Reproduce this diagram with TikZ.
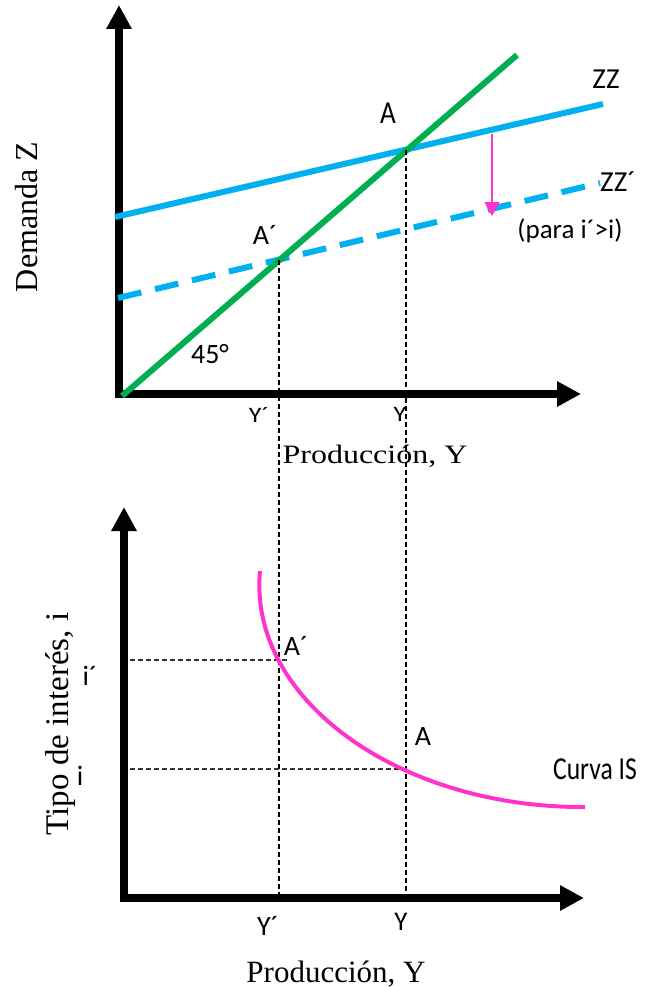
\documentclass[tikz,border=0pt]{standalone}
\usepackage{fontspec}
\setmainfont{Liberation Serif}
\newfontfamily\labfont{Carlito}
\usetikzlibrary{arrows.meta}
\definecolor{zzblue}{HTML}{00B0F0}
\definecolor{lgreen}{HTML}{00B050}
\definecolor{ismag}{HTML}{FF33CC}
\newcommand{\fs}[1]{\fontsize{#1}{#1}\selectfont}
\begin{document}
\begin{tikzpicture}[x=1pt,y=-1pt,
  axis/.style={line width=8pt,-{Triangle[width=24pt,length=24pt]}},
  zzline/.style={zzblue,line width=6pt},
  zzdash/.style={zzblue,line width=6pt,dash pattern=on 24pt off 14pt},
  fortyfive/.style={lgreen,line width=6pt},
  guide/.style={black,line width=1.3pt,dash pattern=on 5pt off 3pt},
  hguide/.style={black!80,line width=1.2pt,dash pattern=on 5pt off 3pt},
  shiftarrow/.style={ismag,line width=2pt,-{Triangle[width=15pt,length=14pt]}},
  iscurve/.style={ismag,line width=4pt},
  lbl/.style={inner sep=0pt,anchor=base,font=\labfont\fs{28}},
  ttl/.style={inner sep=0pt,anchor=base,font=\fs{32}}]
\useasboundingbox (0,0) rectangle (649,987);

% ---------- top panel ----------
\coordinate (t0) at (119,398);
\coordinate (ttop) at (119,5);
\coordinate (h0) at (115,394);
\coordinate (hend) at (581,394);
\draw[axis] (t0) -- (ttop);
\draw[axis] (h0) -- (hend);

\coordinate (g0) at (122,396);
\coordinate (g1) at (517,55);
\coordinate (z0) at (115,217);
\coordinate (z1) at (603,104);
\coordinate (zp0) at (118,298);
\coordinate (zp1) at (600,183);
\coordinate (A) at (406,150);
\coordinate (Ap) at (279,260);

\draw[zzdash] (zp0) -- (zp1);
\draw[zzline] (z0) -- (z1);
\draw[fortyfive] (g0) -- (g1);

\coordinate (s0) at (492,134);
\coordinate (s1) at (492,216);
\draw[shiftarrow] (s0) -- (s1);

% ---------- bottom panel ----------
\coordinate (b0) at (124,902);
\coordinate (btop) at (124,507);
\coordinate (bh0) at (120,898);
\coordinate (bhend) at (584,898);
\draw[axis] (b0) -- (btop);
\draw[axis] (bh0) -- (bhend);

\coordinate (Ybot) at (406,898);
\coordinate (Ypbot) at (279,898);
\draw[guide] (Ap) -- (Ypbot);
\draw[guide] (A) -- (Ybot);

\coordinate (ip0) at (130,660);
\coordinate (ip1) at (290,660);
\coordinate (i0) at (130,769);
\coordinate (i1) at (410,769);
\draw[hguide] (ip0) -- (ip1);
\draw[hguide] (i0) -- (i1);

\coordinate (is0) at (260,571);
\coordinate (is1) at (585,807);
\draw[iscurve] (is0) .. controls (248,700) and (400,808) .. (is1);

% ---------- labels ----------
\node[ttl,rotate=90] (demZ) at (37,217) {Demanda Z};
\node[ttl] (prodtop) at (375,463) {\scalebox{1}[0.83]{Producción, Y}};
\node[ttl,font=\fs{33}] (tipo) at (68,724) [rotate=90] {Tipo de interés, i};
\node[ttl,font=\fs{31}] (prodbot) at (336,982) {Producción, Y};

\node[lbl] (lA) at (388,124) {\fs{32}\scalebox{0.85}[1]{A}};
\node[lbl,font=\labfont\fs{29}] (lZZ) at (606,89) {ZZ};
\node[lbl,font=\labfont\fs{29}] (lZZp) at (618,192) {ZZ´};
\node[lbl,font=\labfont\fs{27}] (lpara) at (570,238) {(para i´>i)};
\node[lbl,font=\labfont\fs{28}] (lAp) at (265,244) {A´};
\node[lbl] (l45) at (210,363) {45°};
\node[lbl,font=\labfont\fs{26}] (lYpt) at (259,422) {\scalebox{1}[0.85]{Y´}};
\node[lbl,font=\labfont\fs{26}] (lYt) at (400,421) {\scalebox{1}[0.85]{Y}};

\node[lbl] (lApb) at (296,655) {A´};
\node[lbl] (lAb) at (423,745) {A};
\node[lbl] (lIS) at (595,779) {\fs{32}\scalebox{0.8}[1]{Curva IS}};
\node[lbl] (lip) at (90,685) {i´};
\node[lbl] (li) at (80,785) {i};
\node[lbl] (lYpb) at (268,935) {Y´};
\node[lbl,font=\labfont\fs{27}] (lYb) at (401,930) {Y};
\end{tikzpicture}
\end{document}
